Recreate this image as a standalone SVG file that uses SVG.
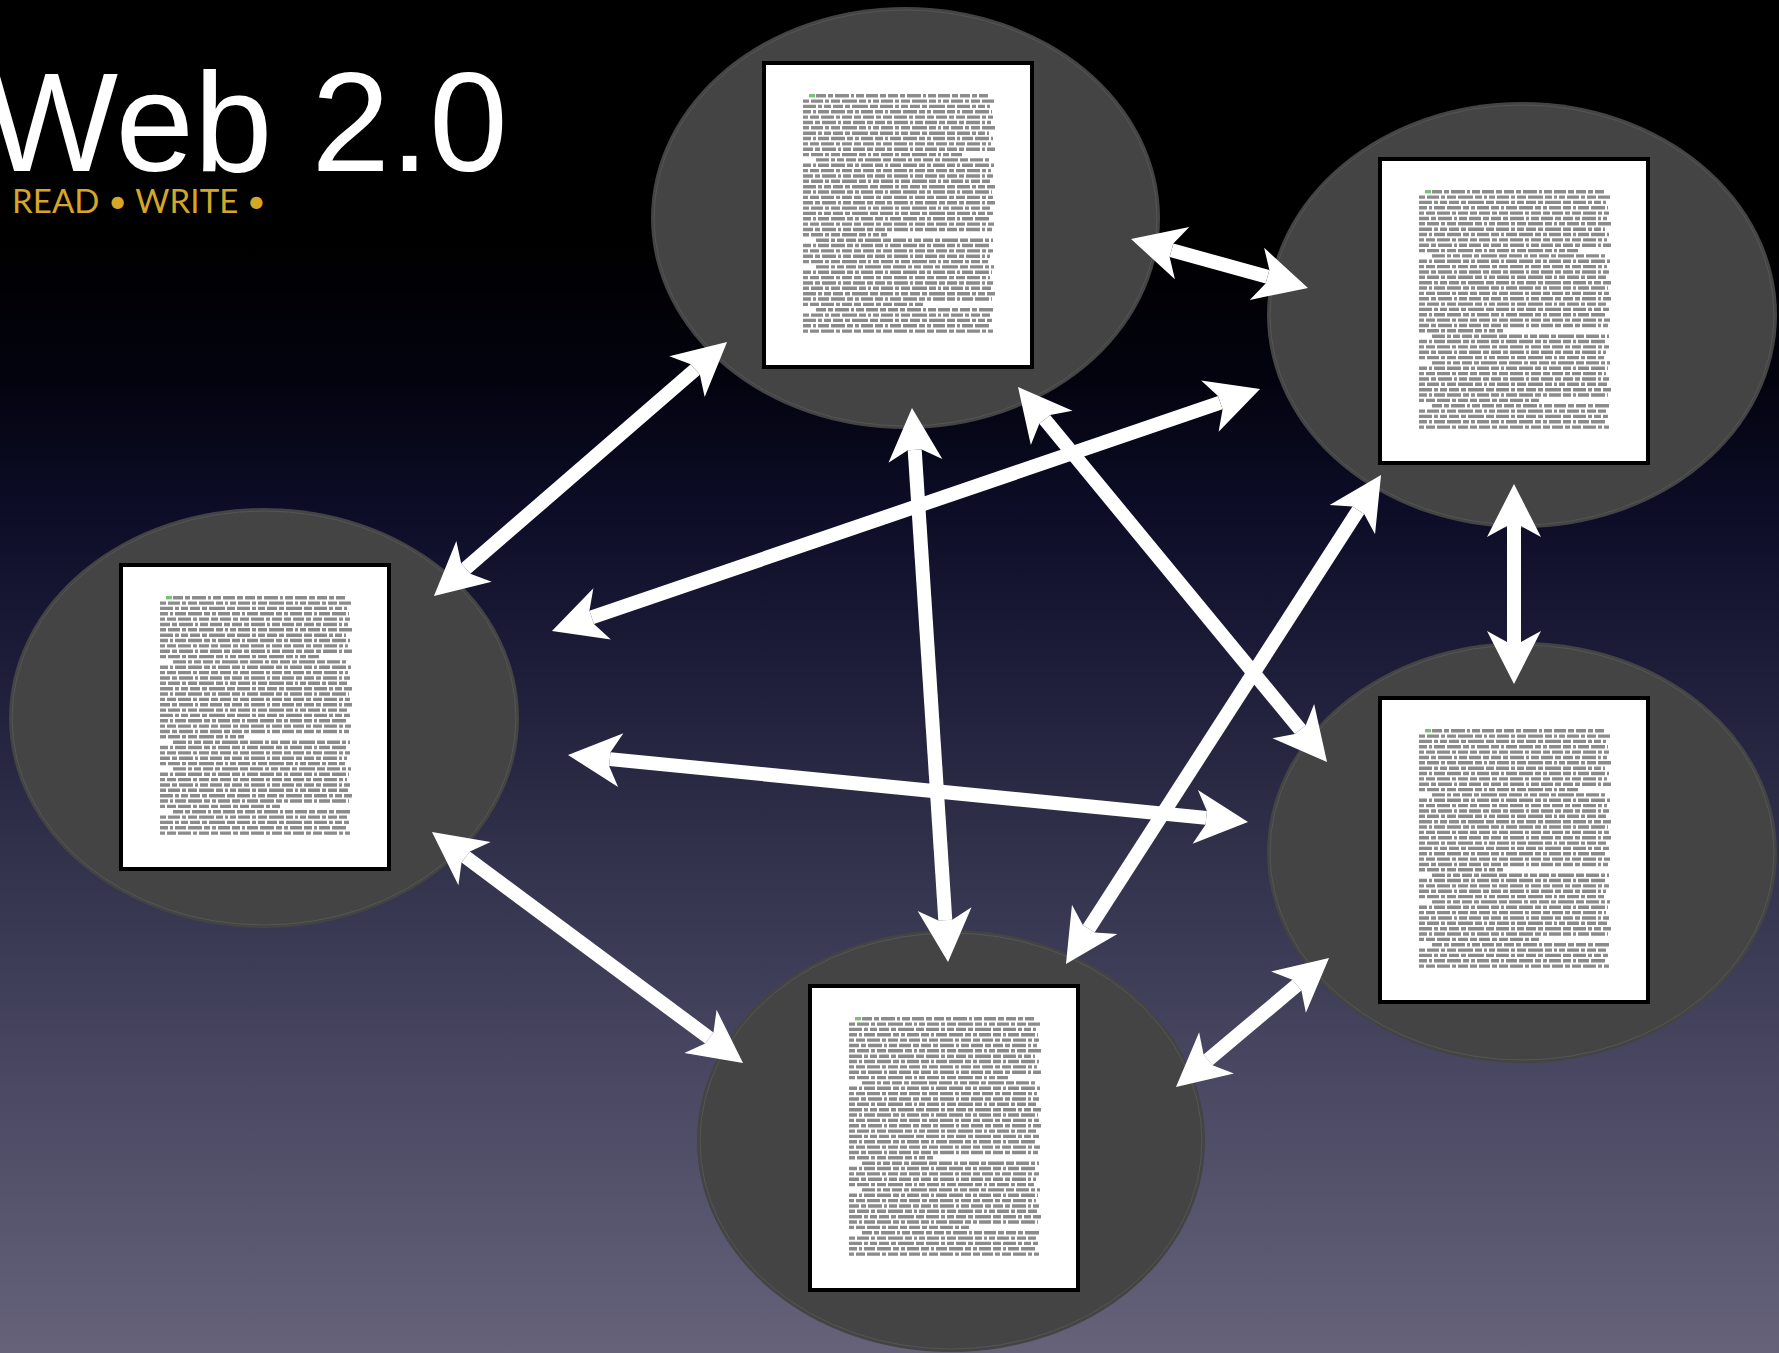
<svg xmlns="http://www.w3.org/2000/svg" xmlns:xlink="http://www.w3.org/1999/xlink" width="1779" height="1353" viewBox="0 0 1779 1353">
<style>
.bubble{fill:#444444}
.ring{fill:none;stroke:#555555;stroke-width:1}
.page{fill:#ffffff;stroke:#000000;stroke-width:4}
.greek{fill:none;stroke:#8c8c8c;stroke-width:3.4}
.conn{stroke:#ffffff;stroke-width:14;fill:none;marker-start:url(#ah);marker-end:url(#ah)}
.title{font-family:"Liberation Sans",Arial,sans-serif;fill:#ffffff}
.sub{font-family:Lato,"Open Sans",sans-serif;fill:#d6a626}
</style>
<defs>
<linearGradient id="bg" x1="0" y1="0" x2="0" y2="1353" gradientUnits="userSpaceOnUse">
<stop offset="0" stop-color="#000000"/>
<stop offset="0.18" stop-color="#000000"/>
<stop offset="0.28" stop-color="#03030f"/>
<stop offset="0.38" stop-color="#0d0d28"/>
<stop offset="0.5" stop-color="#1e1e3a"/>
<stop offset="0.65" stop-color="#34344e"/>
<stop offset="0.8" stop-color="#4a4862"/>
<stop offset="1" stop-color="#65627a"/>
</linearGradient>
<marker id="ah" viewBox="-12 -28 56 56" refX="0" refY="0" markerWidth="56" markerHeight="56" markerUnits="userSpaceOnUse" orient="auto-start-reverse">
<path d="M42,0 L-11,27 L0,7 L0,-7 L-11,-27 Z" fill="#ffffff"/>
</marker>
<g id="doc">
<rect class="page" x="2" y="2" width="268" height="304"/>
<path class="greek" stroke-dasharray="10 2 5 2 14 2 3 2 8 2 12 2 6 2" d="M54 34.7H226 M41 61.5H229 M41 88.2H234 M41 115H231 M41 141.7H234 M41 168.5H230 M41 195.2H228 M41 222H231 M54 248.7H231"/>
<path class="greek" stroke-dasharray="6 2 12 2 4 2 9 2 15 2 7 2 3 2" d="M41 40.1H232 M41 66.8H233 M41 93.6H200 M41 120.3H228 M41 147.1H228 M41 173.8H125 M41 200.6H226 M41 227.3H229 M41 254.1H228"/>
<path class="greek" stroke-dasharray="13 2 4 2 7 2 10 2 5 2 16 2 8 2" d="M41 45.4H228 M41 72.2H227 M54 98.9H229 M41 125.7H233 M41 152.4H231 M54 179.2H231 M54 205.9H232 M41 232.7H233 M41 259.4H230"/>
<path class="greek" stroke-dasharray="8 2 3 2 11 2 14 2 6 2 4 2 12 2" d="M41 50.8H230 M41 77.5H231 M41 104.3H232 M41 131H230 M41 157.8H229 M41 184.5H229 M41 211.3H230 M41 238H230 M41 264.8H229"/>
<path class="greek" stroke-dasharray="5 2 9 2 13 2 4 2 10 2 7 2 11 2" d="M41 56.1H231 M41 82.9H229 M41 109.6H229 M41 136.4H231 M41 163.1H232 M41 189.9H231 M41 216.6H228 M41 243.4H161 M41 270.1H231"/>
<path d="M47 34.7H53" stroke="#7bbf7b" stroke-width="3.4"/>
</g>
</defs>
<rect x="0" y="0" width="1779" height="1353" fill="url(#bg)"/>

<g id="node-top">
<ellipse class="bubble" cx="905.5" cy="218" rx="254.5" ry="211"/>
<ellipse class="ring" cx="905.5" cy="218" rx="251.5" ry="208"/>
<use href="#doc" xlink:href="#doc" x="762" y="61"/>
</g>
<g id="node-topright">
<ellipse class="bubble" cx="1522" cy="315" rx="255" ry="213"/>
<ellipse class="ring" cx="1522" cy="315" rx="252" ry="210"/>
<use href="#doc" xlink:href="#doc" x="1378" y="157"/>
</g>
<g id="node-left">
<ellipse class="bubble" cx="264" cy="718" rx="255" ry="210"/>
<ellipse class="ring" cx="264" cy="718" rx="252" ry="207"/>
<use href="#doc" xlink:href="#doc" x="119" y="563"/>
</g>
<g id="node-rightbottom">
<ellipse class="bubble" cx="1522" cy="852.5" rx="255" ry="210.5"/>
<ellipse class="ring" cx="1522" cy="852.5" rx="252" ry="207.5"/>
<use href="#doc" xlink:href="#doc" x="1378" y="696"/>
</g>
<g id="node-bottom">
<ellipse class="bubble" cx="951" cy="1141" rx="254" ry="211"/>
<ellipse class="ring" cx="951" cy="1141" rx="251" ry="208"/>
<use href="#doc" xlink:href="#doc" x="808" y="984"/>
</g>

<g id="connectors">
<line class="conn" x1="695.3" y1="369.5" x2="465.7" y2="568.5"/>
<line class="conn" x1="1171.5" y1="250.2" x2="1267.5" y2="276.8"/>
<line class="conn" x1="591.7" y1="617.4" x2="1220.3" y2="402.6"/>
<line class="conn" x1="914.7" y1="449.9" x2="945.3" y2="920.1"/>
<line class="conn" x1="1044.7" y1="419.4" x2="1300.3" y2="729.6"/>
<line class="conn" x1="1358.3" y1="510.3" x2="1088.7" y2="928.7"/>
<line class="conn" x1="1514" y1="526" x2="1514" y2="642"/>
<line class="conn" x1="609.8" y1="759.1" x2="1206.2" y2="817.9"/>
<line class="conn" x1="465.7" y1="857" x2="709.3" y2="1038"/>
<line class="conn" x1="1208.1" y1="1059.9" x2="1296.9" y2="985.1"/>
</g>

<g id="title">
<text class="title" x="-15" y="171" font-size="141">Web 2.0</text>
<text class="sub" x="12" y="213" font-size="33" textLength="254" lengthAdjust="spacing">READ • WRITE •</text>
</g>
</svg>
